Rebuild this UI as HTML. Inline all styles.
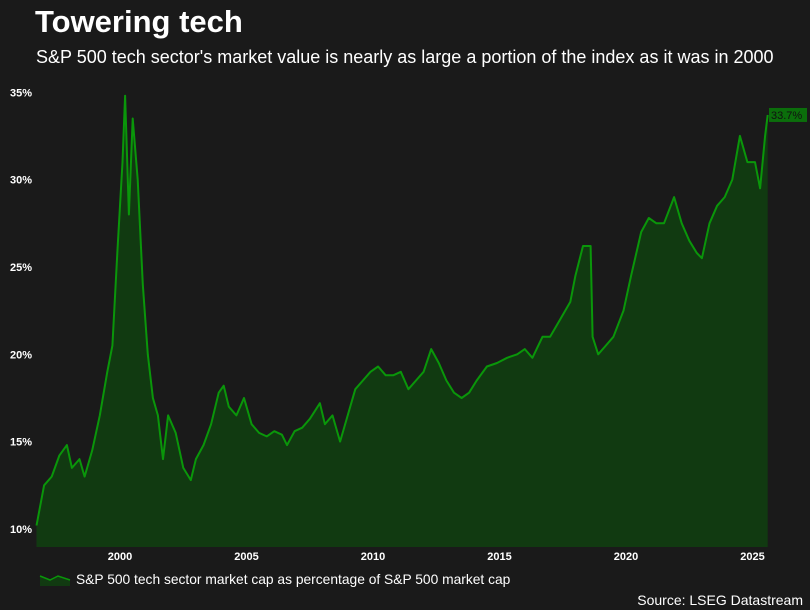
<!DOCTYPE html>
<html><head><meta charset="utf-8"><style>
body{margin:0;background:#1a1a1a;width:810px;height:610px;overflow:hidden;font-family:"Liberation Sans",Arial,sans-serif;color:#fff}
svg{position:absolute;left:0;top:0}
</style></head><body>
<svg width="810" height="610">
<text x="35" y="32" font-size="31" font-weight="bold" fill="#fff">Towering tech</text>
<text x="36" y="63" font-size="18" fill="#fff">S&amp;P 500 tech sector's market value is nearly as large a portion of the index as it was in 2000</text>
<g id="yaxis"></g>
<g id="xaxis"></g>
<path id="area" fill="#113a11"></path>
<path id="line" fill="none" stroke="#0a960a" stroke-width="2" stroke-linejoin="round"></path>
<g id="endlabel"></g>
<path d="M40 586 L40 576 L50 580 L58 576 L70 580 L70 586 Z" fill="#113a11"/>
<path d="M40 576 L50 580 L58 576 L70 580" fill="none" stroke="#0a960a" stroke-width="1.5"/>
<text x="76" y="584" font-size="13.8" fill="#fff">S&amp;P 500 tech sector market cap as percentage of S&amp;P 500 market cap</text>
<text x="803" y="605" font-size="14" fill="#fff" text-anchor="end">Source: LSEG Datastream</text>
</svg>
<script>
const years=[1996.7,1997.0,1997.3,1997.6,1997.9,1998.1,1998.4,1998.6,1998.9,1999.2,1999.5,1999.7,1999.9,2000.1,2000.2,2000.35,2000.5,2000.7,2000.9,2001.1,2001.3,2001.5,2001.7,2001.9,2002.2,2002.5,2002.8,2003.0,2003.3,2003.6,2003.9,2004.1,2004.3,2004.6,2004.9,2005.2,2005.5,2005.8,2006.1,2006.4,2006.6,2006.9,2007.2,2007.5,2007.9,2008.1,2008.4,2008.7,2009.0,2009.3,2009.6,2009.9,2010.2,2010.5,2010.8,2011.1,2011.4,2011.7,2012.0,2012.3,2012.6,2012.9,2013.2,2013.5,2013.8,2014.1,2014.5,2014.9,2015.3,2015.7,2016.0,2016.3,2016.7,2017.0,2017.4,2017.8,2018.0,2018.3,2018.6,2018.68,2018.9,2019.2,2019.5,2019.9,2020.2,2020.6,2020.9,2021.2,2021.5,2021.9,2022.2,2022.5,2022.8,2023.0,2023.3,2023.6,2023.9,2024.2,2024.5,2024.8,2025.1,2025.3,2025.5,2025.6];
const values=[10.2,12.5,13.0,14.2,14.8,13.5,14.0,13.0,14.5,16.5,19,20.5,26,31,34.8,28,33.5,30,24,20,17.5,16.5,14,16.5,15.5,13.5,12.8,14,14.8,16,17.8,18.2,17,16.5,17.5,16,15.5,15.3,15.6,15.4,14.8,15.6,15.8,16.3,17.2,16,16.5,15,16.5,18,18.5,19,19.3,18.8,18.8,19,18,18.5,19,20.3,19.5,18.5,17.8,17.5,17.8,18.5,19.3,19.5,19.8,20,20.3,19.8,21,21,22,23,24.5,26.2,26.2,21,20,20.5,21,22.5,24.5,27,27.8,27.5,27.5,29,27.5,26.5,25.8,25.5,27.5,28.5,29,30,32.5,31,31,29.5,32.5,33.7];
const yTicks=[10,15,20,25,30,35];
const xTicks=[2000,2005,2010,2015,2020,2025];
const NS="http://www.w3.org/2000/svg";
const x=v=>120+(v-2000)*25.3;
const y=v=>529-(v-10)*17.47;
const bottom=547;
let d="";
years.forEach((t,i)=>{d+=(i?"L":"M")+x(t).toFixed(1)+" "+y(values[i]).toFixed(1)+" ";});
document.getElementById('line').setAttribute('d',d);
document.getElementById('area').setAttribute('d',d+"L"+x(years[years.length-1]).toFixed(1)+" "+bottom+" L"+x(years[0]).toFixed(1)+" "+bottom+" Z");
const ya=document.getElementById('yaxis');
yTicks.forEach(v=>{const t=document.createElementNS(NS,'text');


t.setAttribute('x',10);t.setAttribute('y',y(v)+4);t.setAttribute('font-size','11');t.setAttribute('font-weight','bold');t.setAttribute('fill','#fff');t.textContent=v+'%';ya.appendChild(t);});
const xa=document.getElementById('xaxis');
xTicks.forEach(v=>{const t=document.createElementNS(NS,'text');


t.setAttribute('x',x(v));t.setAttribute('y',560);t.setAttribute('font-size','11');t.setAttribute('font-weight','bold');t.setAttribute('fill','#fff');t.setAttribute('text-anchor','middle');t.textContent=v;xa.appendChild(t);});
const el=document.getElementById('endlabel');
const lv=values[values.length-1];
const r=document.createElementNS(NS,'rect');


r.setAttribute('x',769);r.setAttribute('y',y(lv)-7);r.setAttribute('width',38);r.setAttribute('height',14);r.setAttribute('fill','#0b6e0b');el.appendChild(r);
const lt=document.createElementNS(NS,'text');


lt.setAttribute('x',771);lt.setAttribute('y',y(lv)+4);lt.setAttribute('font-size','11');lt.setAttribute('fill','#111');lt.textContent=lv.toFixed(1)+'%';el.appendChild(lt);
</script>
</body></html>
